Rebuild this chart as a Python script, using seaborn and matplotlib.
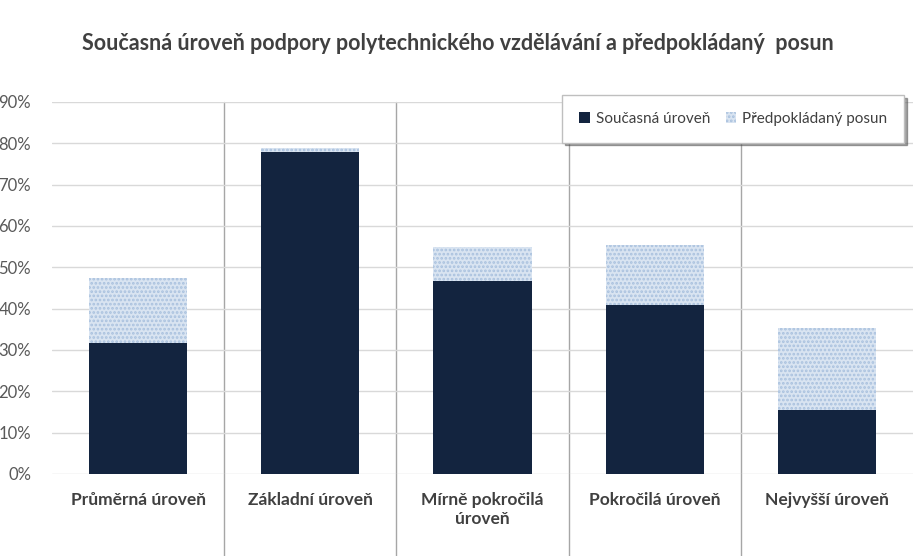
import matplotlib
matplotlib.use("Agg")
import matplotlib.pyplot as plt
import matplotlib.ticker as mtick
import pandas as pd
import seaborn as sns

categories = [
    "Průměrná úroveň",
    "Základní úroveň",
    "Mírně pokročilá\núroveň",
    "Pokročilá úroveň",
    "Nejvyšší úroveň",
]
current = [0.317, 0.779, 0.467, 0.409, 0.155]
shift = [0.157, 0.010, 0.082, 0.145, 0.198]
series_names = ["Současná úroveň", "Předpokládaný posun"]
title = "Současná úroveň podpory polytechnického vzdělávání a předpokládaný  posun"


def main():
    sns.set_theme(style="white")
    plt.rcParams["font.family"] = ["Lato", "DejaVu Sans"]
    plt.rcParams["hatch.linewidth"] = 1.3

    df = pd.DataFrame({"Category": categories, "Current": current, "Shift": shift})
    df["Total"] = df["Current"] + df["Shift"]

    fig = plt.figure(figsize=(9.13, 5.56), dpi=100)
    ax = fig.add_axes([52 / 913, (556 - 474) / 556, 1 - 52 / 913, 372 / 556])

    shift_face = "#d9e4f1"
    shift_hatch = "#a9c1de"

    sns.barplot(
        data=df, x="Category", y="Total", ax=ax, color=shift_face,
        width=0.57, order=categories, saturation=1,
    )
    for p in ax.patches:
        p.set_hatch("....")
        p.set_edgecolor(shift_hatch)
        p.set_linewidth(0)
    n_total = len(ax.patches)
    sns.barplot(
        data=df, x="Category", y="Current", ax=ax, color="#13243f",
        width=0.57, order=categories, saturation=1,
    )
    for p in ax.patches[n_total:]:
        p.set_linewidth(0)

    ax.set_ylim(0, 0.9)
    ax.set_xlim(-0.5, len(categories) - 0.5)
    ax.yaxis.set_major_locator(mtick.MultipleLocator(0.1))
    ax.yaxis.set_major_formatter(mtick.PercentFormatter(1.0, decimals=0))
    ax.grid(axis="y", color="#d9d9d9", linewidth=1)
    ax.set_axisbelow(True)
    for s in ax.spines.values():
        s.set_visible(False)
    ax.tick_params(axis="y", length=7, color="#d9d9d9", labelsize=12,
                   labelcolor="#595959", pad=8)
    ax.tick_params(axis="x", length=0, labelsize=12.5, labelcolor="#404040", pad=13)
    for lbl in ax.get_xticklabels():
        lbl.set_fontweight("bold")
        lbl.set_verticalalignment("top")
    ax.set_xlabel("")
    ax.set_ylabel("")

    # category separators
    for i in range(1, len(categories)):
        ax.plot([i - 0.5, i - 0.5], [0.9, -0.2], color="#a6a6a6", linewidth=1,
                clip_on=False, zorder=0)

    fig.text(0.502, 1 - 43 / 556, title, ha="center", va="center",
             fontsize=15.5, fontweight="bold", color="#404040")

    handles = [
        plt.Rectangle((0, 0), 1, 1, facecolor="#13243f", linewidth=0),
        plt.Rectangle((0, 0), 1, 1, facecolor=shift_face, hatch="....",
                      edgecolor=shift_hatch, linewidth=0),
    ]
    leg = ax.legend(
        handles, series_names, loc="upper right", bbox_to_anchor=(0.99, 1.019),
        borderaxespad=0, ncol=2, frameon=True, fancybox=False, shadow=True,
        fontsize=11, handlelength=0.7, handleheight=0.7, handletextpad=0.4,
        columnspacing=1.0, borderpad=1.1,
    )
    leg.get_frame().set_edgecolor("#bfbfbf")
    for t in leg.get_texts():
        t.set_color("#404040")

    fig.savefig("out.png", dpi=100)


if __name__ == "__main__":
    main()
